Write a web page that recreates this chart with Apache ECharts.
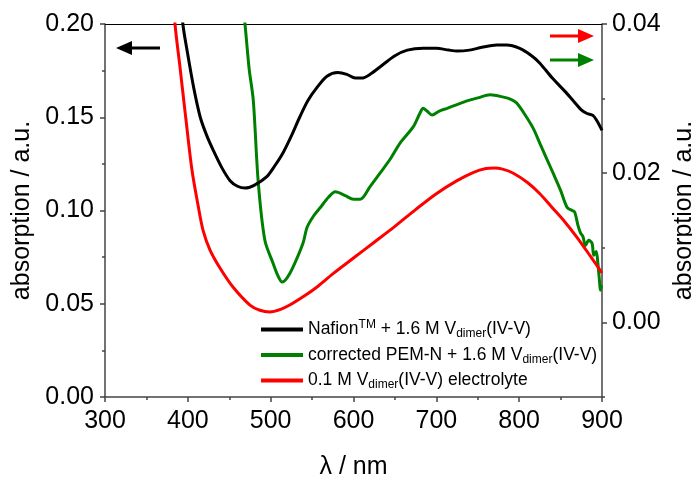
<!DOCTYPE html>
<html>
<head>
<meta charset="utf-8">
<script src="https://cdn.jsdelivr.net/npm/echarts@6/dist/echarts.min.js"></script>
<style>
  html, body { margin: 0; padding: 0; background: #fff; }
  #chart { width: 692px; height: 477px; }
</style>
</head>
<body>
<div id="chart"></div>
<script>
// Wavelength axis ticks (nm)
const xTicks = [300, 400, 500, 600, 700, 800, 900];
// Left axis: Nafion sample and diluted electrolyte
const leftTicks = [0.00, 0.05, 0.10, 0.15, 0.20];
// Right axis: corrected PEM-N sample
const rightTicks = [0.00, 0.02, 0.04];

// Nafion(TM) + 1.6 M V_dimer(IV-V)  -> left axis
const nafionWl = [388, 394, 399, 407, 415, 423, 431, 441, 451, 460, 469, 480, 495, 505, 515, 525, 535, 545, 556, 568, 581, 592, 602, 610, 620, 635, 650, 665, 684, 700, 715, 725, 740, 755, 773, 785, 800, 815, 825, 840, 855, 865, 875, 882, 889, 894, 900];
const nafionAbs = [0.230, 0.200, 0.186, 0.166, 0.150, 0.140, 0.132, 0.123, 0.116, 0.113, 0.112, 0.1135, 0.118, 0.124, 0.131, 0.140, 0.150, 0.159, 0.166, 0.172, 0.174, 0.173, 0.171, 0.171, 0.173, 0.178, 0.183, 0.186, 0.187, 0.187, 0.186, 0.1855, 0.186, 0.1875, 0.1887, 0.1887, 0.187, 0.183, 0.179, 0.171, 0.164, 0.159, 0.154, 0.152, 0.151, 0.148, 0.143];

// corrected PEM-N + 1.6 M V_dimer(IV-V)  -> right axis
const pemnWl = [466, 469, 474, 479, 485, 493, 503, 509, 514, 520, 527, 539, 544, 552, 560, 570, 578, 590, 600, 608, 620, 632, 645, 656, 672, 680, 684, 689, 695, 703, 713, 725, 737, 750, 765, 781, 790, 797, 809, 817, 825, 833, 841, 850, 858, 864, 867, 871, 874, 877, 880, 884, 888, 890, 893, 895, 897, 898, 899, 900];
const pemnAbs = [0.043, 0.040, 0.034, 0.0298, 0.0188, 0.011, 0.0079, 0.0062, 0.0054, 0.0060, 0.0074, 0.0106, 0.01275, 0.0143, 0.0154, 0.0168, 0.0175, 0.0170, 0.0165, 0.0165, 0.0182, 0.0200, 0.0220, 0.0240, 0.0262, 0.0280, 0.0287, 0.0283, 0.0278, 0.0283, 0.0287, 0.0292, 0.0297, 0.0301, 0.0305, 0.0302, 0.0299, 0.0294, 0.0275, 0.0260, 0.0240, 0.0220, 0.0200, 0.0177, 0.0154, 0.0150, 0.0148, 0.0130, 0.0120, 0.0115, 0.0103, 0.0110, 0.0106, 0.0090, 0.0095, 0.0079, 0.0055, 0.0043, 0.0048, 0.0050];

// 0.1 M V_dimer(IV-V) electrolyte  -> left axis
const electrolyteWl = [380, 384.5, 390.5, 397.8, 405, 412.3, 418.3, 426.8, 438.8, 454.5, 475, 487, 499, 512, 523, 540, 556, 575, 600, 625, 650, 675, 700, 725, 745, 760, 770, 780, 793, 810, 825, 840, 855, 870, 886, 900];
const electrolyteAbs = [0.230, 0.200, 0.177, 0.1485, 0.1217, 0.1029, 0.0895, 0.0788, 0.0692, 0.059, 0.0493, 0.0465, 0.0456, 0.047, 0.0493, 0.054, 0.059, 0.066, 0.0745, 0.083, 0.0915, 0.1005, 0.109, 0.116, 0.1205, 0.1225, 0.1228, 0.1222, 0.120, 0.115, 0.109, 0.1015, 0.094, 0.0855, 0.0755, 0.0665];

const seriesNames = ['nafion', 'pemn', 'electrolyte'];
const legendText = {
  nafion: '{t|Nafion}{sup|TM}{t| + 1.6 M V}{sub|dimer}{t|(IV-V)}',
  pemn: '{t|corrected PEM-N + 1.6 M V}{sub|dimer}{t|(IV-V)}',
  electrolyte: '{t|0.1 M V}{sub|dimer}{t|(IV-V) electrolyte}'
};

const zip = (xs, ys) => xs.map((x, i) => [x, ys[i]]);
const FONT = '"Liberation Sans", Arial, sans-serif';
const AXIS_COLOR = '#444';

const chart = echarts.init(document.getElementById('chart'), null, { renderer: 'canvas' });

const tickLabel = { color: '#000', fontFamily: FONT, fontSize: 25 };
const nameStyle = { color: '#000', fontFamily: FONT, fontSize: 25 };
const tickLine = { color: AXIS_COLOR, width: 1.5 };

chart.setOption({
  animation: false,
  backgroundColor: '#fff',
  grid: { left: 105, right: 90, top: 24, bottom: 80, outerBoundsMode: 'none', containLabel: false },
  legend: {
    orient: 'vertical',
    left: 261,
    top: 319,
    padding: 0,
    itemGap: 6,
    itemWidth: 42,
    itemHeight: 4,
    icon: 'rect',
    data: seriesNames,
    formatter: name => legendText[name],
    textStyle: {
      fontFamily: FONT,
      color: '#000',
      rich: {
        t: { fontFamily: FONT, fontSize: 17.5, lineHeight: 21, color: '#000' },
        sub: { fontFamily: FONT, fontSize: 12, lineHeight: 10, verticalAlign: 'bottom', color: '#000' },
        sup: { fontFamily: FONT, fontSize: 12, lineHeight: 11, verticalAlign: 'top', color: '#000' }
      }
    }
  },
  xAxis: [
    {
      type: 'value',
      min: xTicks[0],
      max: xTicks[xTicks.length - 1],
      interval: 100,
      name: 'λ / nm',
      nameLocation: 'middle',
      nameGap: 58,
      nameTextStyle: nameStyle,
      axisLine: { lineStyle: tickLine },
      axisTick: { inside: false, length: 5, lineStyle: tickLine },
      minorTick: { show: true, splitNumber: 2, length: 3, lineStyle: tickLine },
      axisLabel: Object.assign({ margin: 12 }, tickLabel),
      splitLine: { show: false }
    },
    {
      type: 'value',
      position: 'top',
      min: xTicks[0],
      max: xTicks[xTicks.length - 1],
      axisLine: { show: true, onZero: false, lineStyle: { color: '#000', width: 1 } },
      axisTick: { show: false },
      axisLabel: { show: false },
      splitLine: { show: false }
    }
  ],
  yAxis: [
    {
      type: 'value',
      position: 'left',
      min: leftTicks[0],
      max: leftTicks[leftTicks.length - 1],
      interval: 0.05,
      name: 'absorption / a.u.',
      nameLocation: 'middle',
      nameGap: 68,
      nameTextStyle: nameStyle,
      axisLine: { show: true, onZero: false, lineStyle: tickLine },
      axisTick: { length: 5, lineStyle: tickLine },
      minorTick: { show: true, splitNumber: 2, length: 3, lineStyle: tickLine },
      axisLabel: Object.assign({ margin: 11, formatter: v => v.toFixed(2) }, tickLabel),
      splitLine: { show: false }
    },
    {
      type: 'value',
      position: 'right',
      min: -0.01,
      max: 0.04,
      name: 'absorption / a.u.',
      nameLocation: 'middle',
      nameGap: 70,
      nameRotate: 90,
      nameTextStyle: nameStyle,
      axisLine: { show: true, onZero: false, lineStyle: tickLine },
      axisTick: { length: 5, customValues: rightTicks, lineStyle: tickLine },
      axisLabel: Object.assign({ margin: 10, customValues: rightTicks, formatter: v => v.toFixed(2) }, tickLabel),
      splitLine: { show: false }
    },
    {
      // minor ticks of the right axis
      type: 'value',
      position: 'right',
      min: -0.01,
      max: 0.04,
      interval: 0.01,
      axisLine: { show: false },
      axisTick: { length: 3, lineStyle: tickLine },
      axisLabel: { show: false },
      splitLine: { show: false }
    }
  ],
  series: [
    {
      name: 'nafion', type: 'line', xAxisIndex: 0, yAxisIndex: 0,
      data: zip(nafionWl, nafionAbs),
      showSymbol: false, smooth: 0.3, clip: true,
      color: '#000', lineStyle: { color: '#000', width: 3 }, z: 3
    },
    {
      name: 'pemn', type: 'line', xAxisIndex: 0, yAxisIndex: 1,
      data: zip(pemnWl, pemnAbs),
      showSymbol: false, smooth: 0.3, clip: true,
      color: '#008000', lineStyle: { color: '#008000', width: 3 }, z: 2
    },
    {
      name: 'electrolyte', type: 'line', xAxisIndex: 0, yAxisIndex: 0,
      data: zip(electrolyteWl, electrolyteAbs),
      showSymbol: false, smooth: 0.3, clip: true,
      color: '#ff0000', lineStyle: { color: '#ff0000', width: 3 }, z: 4
    }
  ],
  graphic: [
    // left-pointing arrow: curves read on the left axis
    { type: 'line', shape: { x1: 128, y1: 48, x2: 160, y2: 48 }, style: { stroke: '#000', lineWidth: 3 } },
    { type: 'polygon', shape: { points: [[116, 48], [132, 41], [132, 55]] }, style: { fill: '#000' } },
    // right-pointing arrows: curves read on the right axis
    { type: 'line', shape: { x1: 550, y1: 36, x2: 580, y2: 36 }, style: { stroke: '#ff0000', lineWidth: 3 } },
    { type: 'polygon', shape: { points: [[594, 36], [578, 29], [578, 43]] }, style: { fill: '#ff0000' } },
    { type: 'line', shape: { x1: 550, y1: 60, x2: 580, y2: 60 }, style: { stroke: '#008000', lineWidth: 3 } },
    { type: 'polygon', shape: { points: [[594, 60], [578, 53], [578, 67]] }, style: { fill: '#008000' } }
  ]
});
</script>
</body>
</html>
